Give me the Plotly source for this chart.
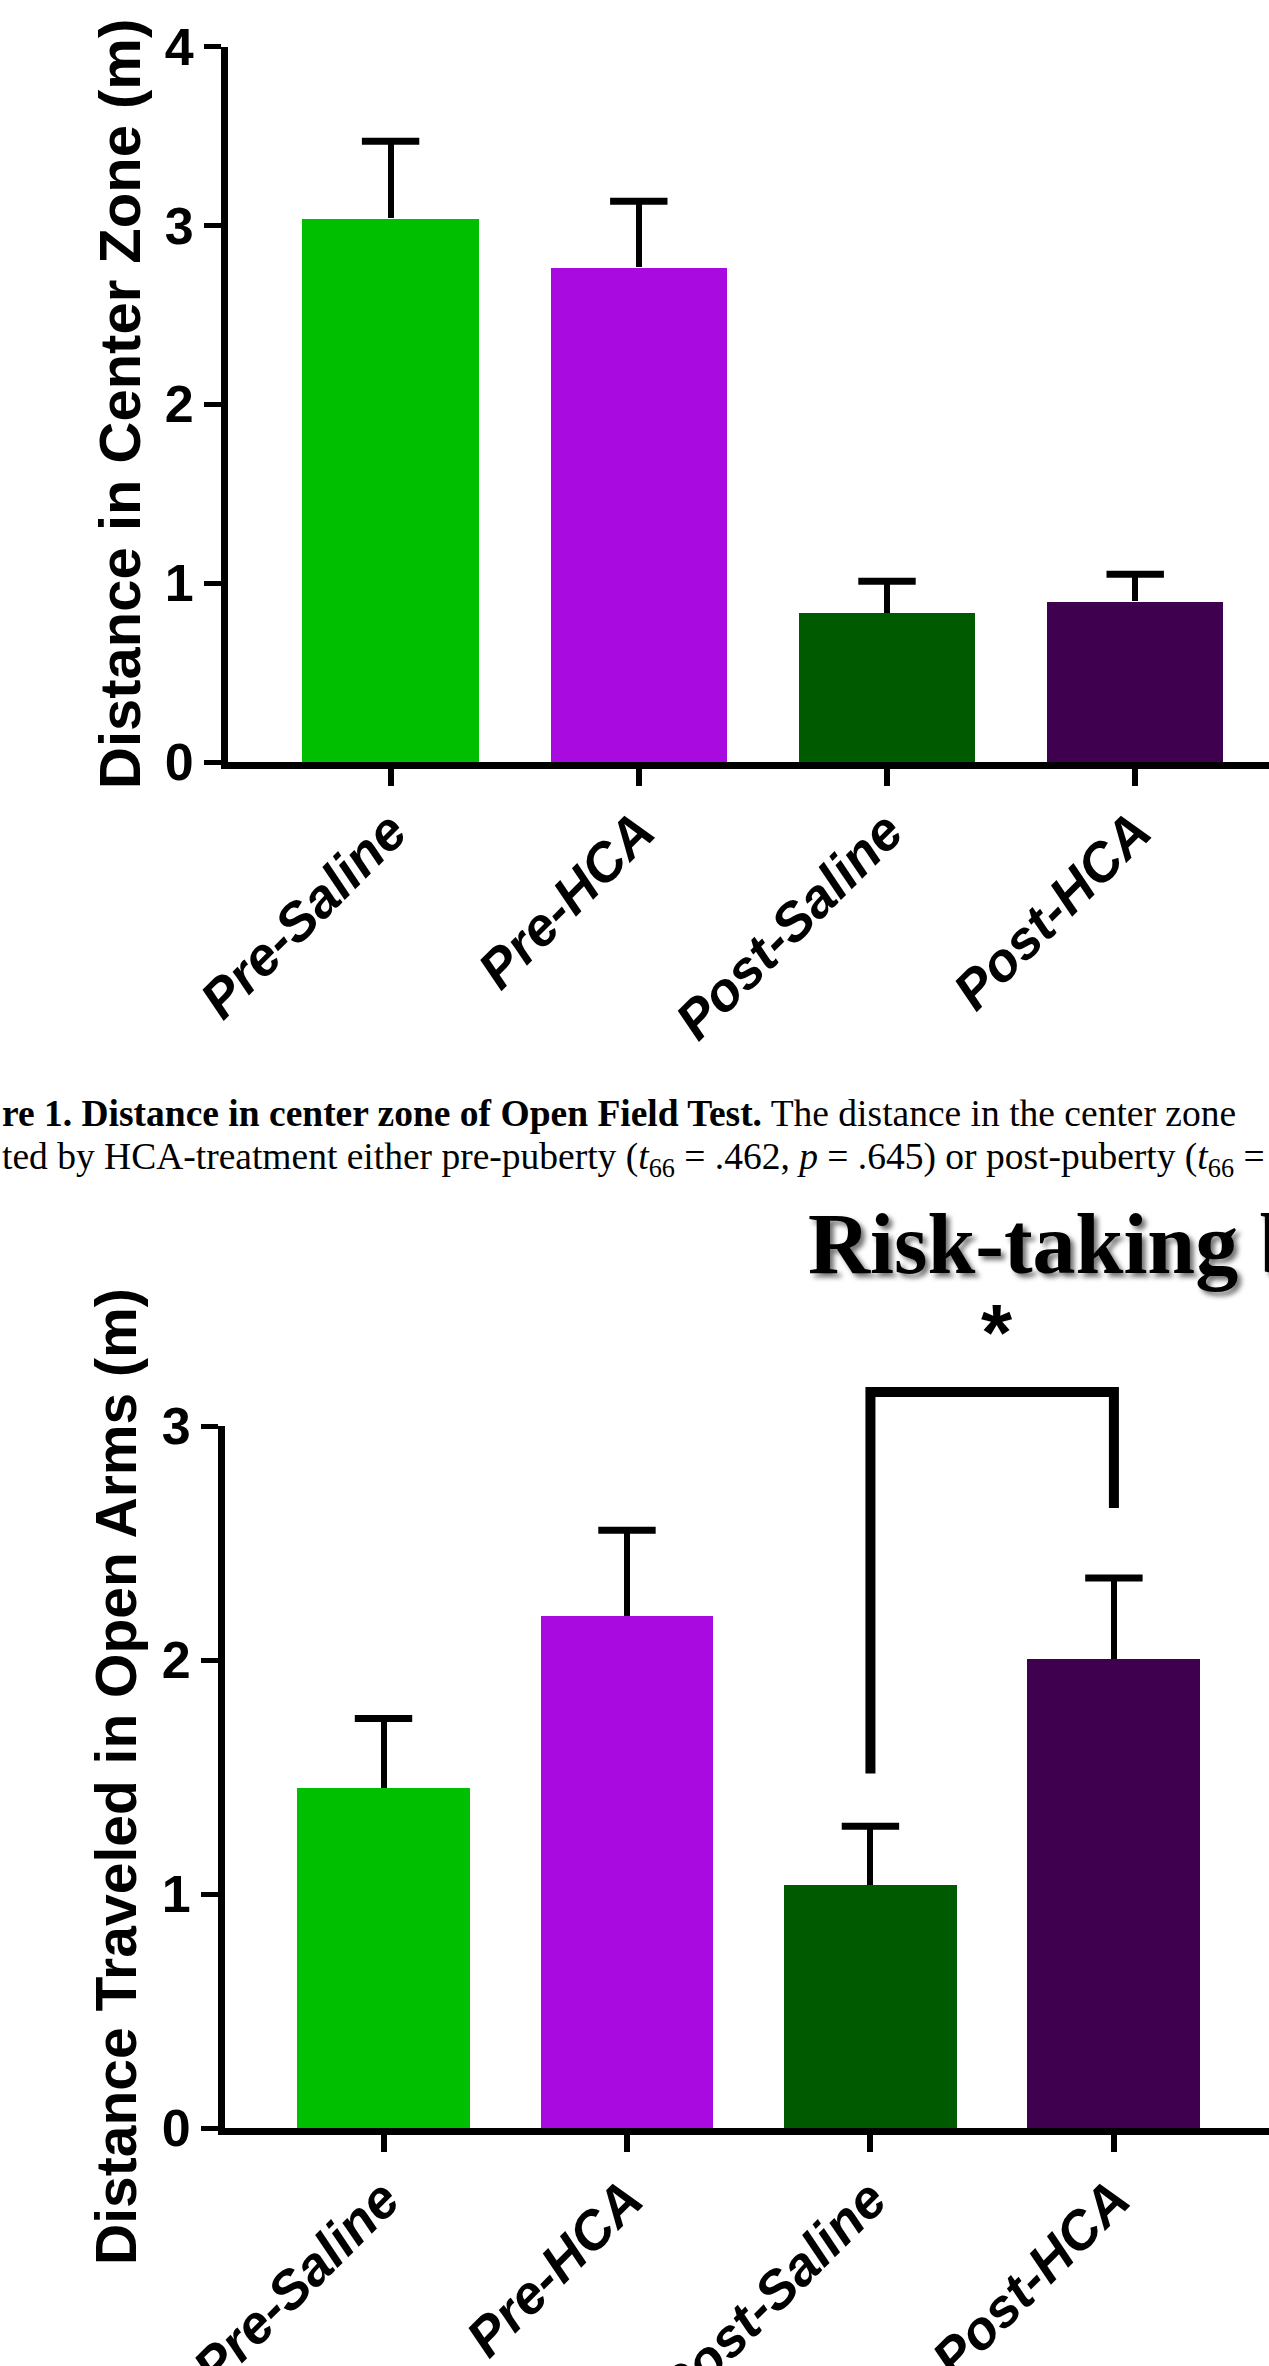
import plotly.graph_objects as go

W, H = 1269, 2366

# Groups and bar colours shared by both panels
groups = ["Pre-Saline", "Pre-HCA", "Post-Saline", "Post-HCA"]
bar_colors = ["#00BF00", "#A90AE0", "#005A00", "#3F004F"]

# Open Field Test: distance in centre zone (m), mean and SEM
center_mean = [3.04, 2.765, 0.835, 0.90]
center_sem = [0.43, 0.37, 0.175, 0.15]
center_ticks = [0, 1, 2, 3, 4]

# Elevated plus maze: distance travelled in open arms (m), mean and SEM
open_mean = [1.455, 2.19, 1.04, 2.005]
open_sem = [0.295, 0.365, 0.25, 0.345]
open_ticks = [0, 1, 2, 3]

# Significance bracket between Post-Saline and Post-HCA
sig_pair = (2, 3)
sig_bar_y = 3.145
sig_left_drop = 1.515
sig_right_drop = 2.65
sig_star_y = 3.40
sig_label = "*"

caption_line1 = ("<b>re 1. Distance in center zone of Open Field Test.</b>"
                 " The distance in the center zone")
caption_line2 = ("ted by HCA-treatment either pre-puberty (<i>t</i><sub>66</sub> = .462, "
                 "<i>p</i> = .645) or post-puberty (<i>t</i><sub>66</sub> = -.")
section_title = "Risk-taking behavior"
ytitle_top = "Distance in Center Zone (m)"
ytitle_bottom = "Distance Traveled in Open Arms (m)"

SANS = "Liberation Sans, Arial, sans-serif"
SERIF = "Liberation Serif, Times New Roman, serif"

x_pos = list(range(len(groups)))


def px_x(p):
    return p / W


def px_y(p):
    return 1 - p / H


fig = go.Figure()


def add_panel(means, sems, xa, ya):
    fig.add_trace(go.Bar(
        x=x_pos, y=means, width=0.71,
        marker=dict(color=bar_colors, line=dict(width=0)),
        error_y=dict(type="data", array=sems, arrayminus=[0] * len(sems),
                     symmetric=False, color="black", thickness=6, width=0),
        xaxis=xa, yaxis=ya, hoverinfo="skip", showlegend=False))
    tops = [m + s for m, s in zip(means, sems)]
    fig.add_trace(go.Scatter(
        x=x_pos, y=tops, mode="markers", cliponaxis=False,
        marker=dict(symbol="line-ew", size=41, color="black",
                    line=dict(color="black", width=7)),
        xaxis=xa, yaxis=ya, hoverinfo="skip", showlegend=False))


add_panel(center_mean, center_sem, "x", "y")
add_panel(open_mean, open_sem, "x2", "y2")

xfont = dict(family=SANS, size=54, color="black", weight="bold", style="italic")
yfont = dict(family=SANS, size=52, color="black", weight="bold")

common = dict(showgrid=False, zeroline=False, showline=True, linecolor="black",
              ticks="outside", tickcolor="black", automargin=False)

fig.update_layout(
    width=W, height=H,
    margin=dict(l=0, r=0, t=0, b=0, autoexpand=False),
    paper_bgcolor="white", plot_bgcolor="white",
    showlegend=False, bargap=0,
    xaxis=dict(common, domain=[px_x(228), 1], range=[-0.655, 3.539],
               anchor="y", linewidth=7, ticklen=17, tickwidth=6,
               tickvals=x_pos, ticktext=groups, tickangle=-45, tickfont=xfont,
               ticklabelstandoff=-8),
    yaxis=dict(common, domain=[px_y(762), px_y(46.5)], range=[0, 4],
               anchor="x", linewidth=7, ticklen=17, tickwidth=5,
               tickvals=center_ticks, tickfont=yfont),
    xaxis2=dict(common, domain=[px_x(225), 1], range=[-0.651, 3.637],
                anchor="y2", linewidth=7, ticklen=17, tickwidth=6,
                tickvals=x_pos, ticktext=groups, tickangle=-45, tickfont=xfont,
                ticklabelstandoff=-6),
    yaxis2=dict(common, domain=[px_y(2128), px_y(1426)], range=[0, 3],
                anchor="x2", linewidth=7, ticklen=17, tickwidth=5,
                tickvals=open_ticks, tickfont=yfont),
)

# Significance bracket, expressed in the lower panel's y-domain fraction
y2_lo, y2_hi = 0, 3


def dom2(v):
    return (v - y2_lo) / (y2_hi - y2_lo)


a, b = sig_pair
fig.add_shape(
    type="path", xref="x2", yref="y2 domain",
    path=(f"M{a},{dom2(sig_left_drop)} L{a},{dom2(sig_bar_y)} "
          f"L{b},{dom2(sig_bar_y)} L{b},{dom2(sig_right_drop)}"),
    line=dict(color="black", width=10), layer="above")

annotations = [
    dict(text=sig_label, x=(a + b) / 2 + 0.02, xref="x2", y=dom2(sig_star_y), yref="y2 domain",
         showarrow=False, xanchor="center", yanchor="middle",
         font=dict(family=SANS, size=80, color="black", weight="bold")),
    dict(text=ytitle_top, textangle=-90, x=px_x(119), y=px_y(404), xref="paper", yref="paper",
         showarrow=False, xanchor="center", yanchor="middle",
         font=dict(family=SANS, size=58, color="black", weight="bold")),
    dict(text=ytitle_bottom, textangle=-90, x=px_x(116), y=px_y(1777), xref="paper", yref="paper",
         showarrow=False, xanchor="center", yanchor="middle",
         font=dict(family=SANS, size=57, color="black", weight="bold")),
    dict(text=caption_line1, x=0, y=px_y(1113), xref="paper", yref="paper",
         showarrow=False, xanchor="left", yanchor="middle",
         font=dict(family=SERIF, size=37.5, color="black")),
    dict(text=caption_line2, x=0, y=px_y(1159), xref="paper", yref="paper",
         showarrow=False, xanchor="left", yanchor="middle",
         font=dict(family=SERIF, size=37.5, color="black")),
    dict(text=section_title, x=px_x(806), y=px_y(1244), xref="paper", yref="paper",
         showarrow=False, xanchor="left", yanchor="middle",
         font=dict(family=SERIF, size=86, color="black", weight="bold",
                   shadow="4px 4px 5px rgba(0,0,0,0.55)")),
]
fig.update_layout(annotations=annotations)

fig.write_html("out.html")
